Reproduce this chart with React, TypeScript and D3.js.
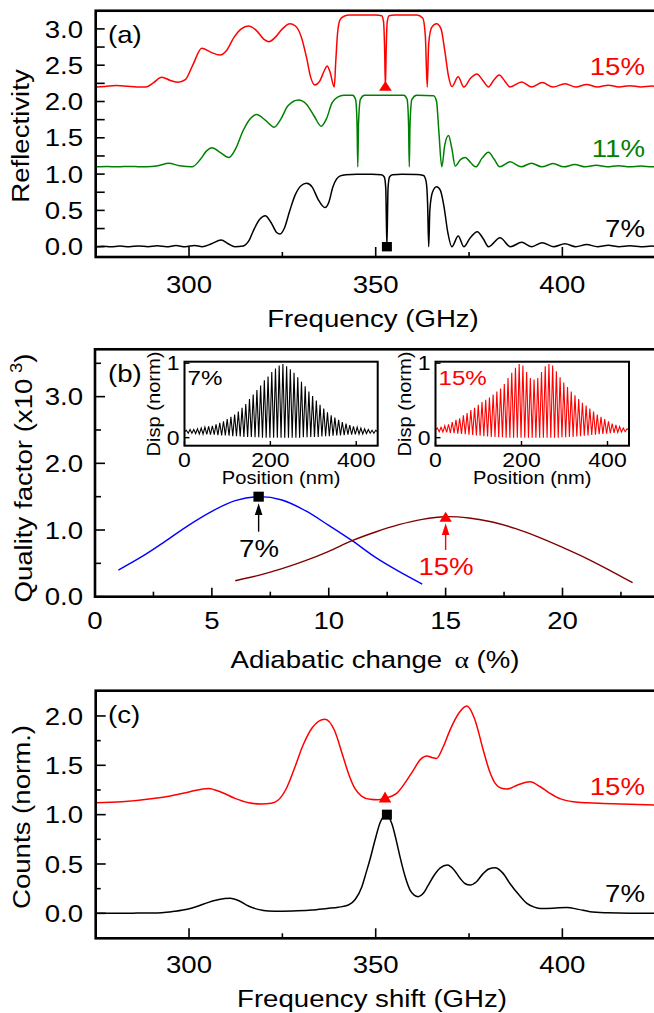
import React from 'react';
import * as d3 from 'd3';

// ---------- Panel (a): reflectivity (raw, 0..1) ----------
const REFL_OFFSETS = { p7: 0, p11: 1.1, p15: 2.2 };
const REFL_7: [number, number][] = [
  [275,0.0],[277,0.006],[279,0.0],[281.5,0.008],[284,0.0],[286.5,0.01],[289,0.0],[291.5,0.012],[294,0.0],[296.5,0.015],[299,0.0],[301.5,0.018],[303.5,0.0],
  [306,0.04],[308.6,0.092],[310.5,0.04],[312.3,0.0],[314.5,0.01],[316,0.08],[317.5,0.25],[319,0.38],[320.4,0.427],[322,0.33],[323.4,0.2],[324.4,0.175],
  [325.5,0.25],[327,0.5],[328.5,0.72],[330,0.84],[331.5,0.873],[333,0.82],[334.5,0.66],[336.4,0.54],[337.5,0.62],[338.5,0.82],[339.5,0.93],[340.5,0.975],
  [342,0.992],[345,0.998],[349,0.998],[351.5,0.99],[352.3,0.96],[352.7,0.8],[353,0.0],[353.3,0.8],[353.7,0.96],[354.5,0.99],[357,0.998],[361,0.995],
  [362.8,0.98],[363.5,0.9],[363.9,0.6],[364.2,0.0],[364.5,0.5],[365.2,0.75],[366.3,0.826],[367.3,0.78],[368.3,0.55],[369.3,0.2],[370.4,0.0],
  [372.1,0.147],[373.6,0.0],[375.3,0.12],[377.2,0.207],[378.8,0.11],[380.2,0.0],[383.3,0.124],[386.1,0.0],[389.1,0.06],[391.8,0.0],[394.6,0.055],
  [397.6,0.0],[400.7,0.04],[403.6,0.0],[406.5,0.03],[409.4,0.0],[412.3,0.02],[415.2,0.0],[418.1,0.012],[421,0.0],[424,0.008],[425,0.005],
];
const REFL_11: [number, number][] = [
  [275,0.0],[278,0.005],[281,0.0],[284,0.006],[287,0.0],[290,0.004],[292,0.02],[294.5,0.049],[297.5,0.015],[300.8,0.0],[303,0.1],[304.7,0.22],
  [306.2,0.264],[308.3,0.2],[310.7,0.13],[312.5,0.25],[314.5,0.5],[316.5,0.67],[318.1,0.72],[320.5,0.64],[322.8,0.545],[324.5,0.65],[326.5,0.84],
  [329.3,0.92],[331.5,0.86],[333.5,0.7],[335.4,0.56],[336.8,0.66],[338.3,0.88],[339.8,0.96],[341.5,0.985],[343.8,0.985],[344.6,0.93],[345,0.6],
  [345.2,0.0],[345.4,0.6],[345.9,0.93],[347,0.985],[357.5,0.985],[358.4,0.93],[358.8,0.6],[359.0,0.0],[359.2,0.6],[359.7,0.93],[361,0.985],
  [365.5,0.98],[366.3,0.9],[366.9,0.5],[367.7,0.0],[368.5,0.3],[369.5,0.43],[370.4,0.25],[371.3,0.01],[372.7,0.1],[374,0.13],[375.4,0.06],
  [376.8,0.0],[378.5,0.12],[380.2,0.2],[381.8,0.1],[383.2,0.0],[386,0.07],[389,0.0],[391.7,0.05],[394.5,0.0],[397.5,0.045],[400.4,0.0],
  [403.3,0.032],[406.2,0.0],[409.1,0.022],[412,0.0],[415,0.015],[418,0.0],[421,0.01],[424,0.0],[425,0.002],
];
const REFL_15: [number, number][] = [
  [275,0.0],[277.5,0.008],[280.5,0.02],[283.5,0.01],[286,0.0],[288.5,0.0],[290.5,0.06],[292.7,0.133],[295,0.09],[297.1,0.064],[299,0.1],[301,0.3],
  [303.4,0.533],[305.8,0.48],[308.3,0.44],[310,0.5],[312,0.68],[314,0.8],[315.9,0.84],[318,0.78],[320,0.66],[321.4,0.624],[323,0.68],[325,0.8],
  [327,0.87],[328.5,0.84],[330,0.7],[331.5,0.4],[332.5,0.15],[333.7,0.027],[335,0.08],[336.2,0.22],[337,0.29],[337.8,0.2],[338.9,0.0],[339.3,0.35],
  [339.8,0.75],[340.5,0.93],[341.5,0.975],[343,0.99],[350,0.99],[351.6,0.98],[352.1,0.9],[352.4,0.5],[352.6,0.0],[352.8,0.5],[353.1,0.9],[353.6,0.98],
  [355,0.99],[361,0.99],[362.6,0.95],[363.3,0.7],[363.8,0.0],[364.2,0.6],[365,0.82],[366.3,0.87],[367.5,0.8],[368.5,0.5],[369.5,0.15],[370.4,0.005],
  [372.1,0.14],[373.6,0.0],[375.4,0.12],[377.1,0.18],[378.7,0.09],[380.2,0.0],[381.7,0.1],[383.1,0.165],[384.6,0.08],[386,0.0],[389.1,0.07],
  [391.7,0.0],[394.6,0.06],[397.5,0.0],[400.7,0.045],[403.6,0.0],[406.5,0.035],[409.4,0.0],[412.3,0.025],[415.2,0.0],[418.1,0.018],[421,0.0],
  [424,0.012],[425,0.008],
];
const FREQ_TICKS = [300, 350, 400];
const FREQ_TICK_LABELS = ['300', '350', '400'];
const FREQ_MINOR = [325, 375];
const REFL_TICKS = [0, 0.5, 1, 1.5, 2, 2.5, 3];
const REFL_TICK_LABELS = ['0.0', '0.5', '1.0', '1.5', '2.0', '2.5', '3.0'];
const REFL_MINOR = [0.25, 0.75, 1.25, 1.75, 2.25, 2.75];
const MODE_FREQ_7 = 353;
const MODE_FREQ_15 = 352.6;

// ---------- Panel (b): quality factor ----------
const ALPHA_BLUE = [1, 2, 3, 4, 5, 6, 7, 8, 9, 10, 11, 12, 13, 14];
const Q_BLUE = [0.40, 0.60, 0.83, 1.07, 1.28, 1.44, 1.50, 1.45, 1.29, 1.07, 0.84, 0.59, 0.38, 0.19];
const ALPHA_BROWN = [6, 7, 8, 9, 10, 11, 12, 13, 14, 15, 16, 17, 18, 19, 20, 21, 22, 23];
const Q_BROWN = [0.24, 0.32, 0.42, 0.54, 0.68, 0.84, 0.97, 1.08, 1.16, 1.20, 1.18, 1.12, 1.02, 0.89, 0.74, 0.58, 0.40, 0.21];
const ALPHA_TICKS = [0, 5, 10, 15, 20];
const ALPHA_MINOR = [2.5, 7.5, 12.5, 17.5, 22.5];
const Q_TICKS = [0, 1, 2, 3];
const Q_TICK_LABELS = ['0.0', '1.0', '2.0', '3.0'];
const Q_MINOR = [0.5, 1.5, 2.5, 3.5];
const MARK_7 = { alpha: 7, q: 1.5 };
const MARK_15 = { alpha: 15, q: 1.2 };

// insets: displacement profiles (peak and trough of each oscillation)
const OSC_START = 4.3;
const OSC_PERIOD = 8.65;
const PEAKS_7 = [
  0.10,0.11,0.11,0.12,0.13,0.14,0.15,0.16,0.18,0.20,
  0.22,0.25,0.28,0.31,0.35,0.40,0.45,0.52,0.58,0.64,
  0.70,0.77,0.82,0.88,0.93,0.97,0.99,0.96,0.92,0.87,
  0.81,0.75,0.69,0.62,0.56,0.50,0.44,0.39,0.34,0.30,
  0.27,0.24,0.21,0.19,0.17,0.15,0.14,0.13,0.12,0.11,
  0.10,0.10,
];
const TROUGHS_7 = [
  0.06,0.06,0.055,0.05,0.05,0.045,0.04,0.04,0.035,0.03,
  0.03,0.025,0.02,0.02,0.015,0.01,0.01,0.01,0.005,0.005,
  0.0,0.0,0.0,0.0,0.0,0.0,0.0,0.0,0.0,0.0,
  0.0,0.005,0.005,0.01,0.01,0.01,0.015,0.02,0.02,0.025,
  0.03,0.03,0.035,0.04,0.04,0.045,0.05,0.05,0.055,0.06,
  0.06,
];
const EDGE_7 = 0.08;
const PEAKS_15 = [
  0.13,0.14,0.16,0.18,0.21,0.24,0.26,0.30,0.33,0.37,
  0.40,0.44,0.48,0.51,0.54,0.58,0.62,0.66,0.72,0.80,
  0.87,0.94,0.99,0.97,0.88,0.80,0.78,0.80,0.88,0.96,
  0.99,0.97,0.89,0.81,0.74,0.68,0.62,0.57,0.52,0.47,
  0.43,0.39,0.35,0.31,0.28,0.25,0.22,0.19,0.17,0.15,
  0.13,0.12,
];
const TROUGHS_15 = [
  0.08,0.075,0.07,0.065,0.06,0.055,0.05,0.045,0.04,0.035,
  0.03,0.025,0.02,0.015,0.01,0.01,0.005,0.005,0.0,0.0,
  0.0,0.0,0.0,0.0,0.0,0.0,0.0,0.0,0.0,0.0,
  0.0,0.0,0.0,0.005,0.005,0.01,0.01,0.015,0.02,0.025,
  0.03,0.035,0.04,0.045,0.05,0.055,0.06,0.065,0.07,0.075,
  0.08,
];
const EDGE_15 = 0.1;
const POS_TICKS = [0, 200, 400];
const DISP_TICKS = [0, 1];

// ---------- Panel (c): Raman counts ----------
const COUNTS_7: [number, number][] = [
  [275,0.0],[285,0.002],[292.7,0.007],[296,0.02],[299.8,0.044],[302.5,0.075],[305.2,0.111],[308,0.14],[311,0.152],[313.5,0.125],
  [315.9,0.074],[318.5,0.04],[321.2,0.024],[325,0.022],[329,0.026],[332.9,0.034],[337,0.05],[340,0.062],[342.7,0.084],[344.5,0.14],
  [346.3,0.27],[347.5,0.42],[348.5,0.55],[349.8,0.74],[351.2,0.92],[352.8,1.0],[354.4,0.9],[355.5,0.74],[356.5,0.574],[357.9,0.37],
  [359.2,0.236],[360.3,0.185],[361.4,0.169],[362.7,0.2],[364,0.28],[365.4,0.371],[367.3,0.46],[369.2,0.489],[371,0.44],[372.6,0.355],
  [374,0.3],[375.3,0.287],[377,0.32],[378.7,0.4],[380.3,0.45],[382,0.462],[384,0.41],[386,0.3],[388.3,0.19],[390.5,0.101],
  [392.3,0.065],[394,0.05],[397.5,0.052],[401.2,0.06],[404.3,0.04],[407.4,0.017],[412,0.005],[418,0.0],[425,0.0],
];
const COUNTS_15_SHIFTED: [number, number][] = [
  [275,1.121],[282,1.13],[290.9,1.165],[295,1.19],[300,1.23],[305.2,1.266],[308.5,1.23],[312.3,1.165],[316,1.12],[319.5,1.107],
  [322,1.115],[323.9,1.148],[326,1.26],[328.4,1.486],[330.5,1.7],[333,1.88],[336.4,1.966],[339,1.85],[341,1.62],[342.7,1.418],
  [344.5,1.26],[346.2,1.188],[348.5,1.155],[350.5,1.15],[352.5,1.165],[355.6,1.215],[358,1.33],[360.1,1.452],[362,1.56],[363.7,1.594],
  [365,1.58],[366.3,1.57],[368,1.68],[369.9,1.857],[372.3,2.03],[374.4,2.10],[376.5,1.97],[378.8,1.655],[380.5,1.44],[382,1.317],
  [383.5,1.27],[385.1,1.259],[388,1.3],[391.3,1.333],[394,1.285],[396.7,1.216],[399.5,1.16],[402.9,1.131],[407,1.12],[411,1.114],
  [418,1.105],[425,1.097],
];
const COUNT_TICKS = [0, 0.5, 1, 1.5, 2];
const COUNT_TICK_LABELS = ['0.0', '0.5', '1.0', '1.5', '2.0'];
const COUNT_MINOR = [0.25, 0.75, 1.25, 1.75];
const C_MARK_15 = { f: 352.5, v: 1.18 };
const C_MARK_7 = { f: 353, v: 1.0 };

const FONT = "'Liberation Sans', Arial, Helvetica, sans-serif";
const SX = 1.15;
const RED = '#ff0000';
const GREEN = '#008000';
const BLUE = '#0000ff';
const BROWN = '#800000';

function T({ x, y, size = 24, anchor = 'start', fill = '#000', rot = 0, children }: any) {
  return (
    <text transform={`translate(${x},${y}) rotate(${rot}) scale(${SX},1)`} fontSize={size}
      textAnchor={anchor} fill={fill} fontFamily={FONT}>{children}</text>
  );
}

function Frame({ x0, x1, y0, y1, w = 2.6 }: any) {
  return <rect x={x0} y={y0} width={x1 - x0} height={y1 - y0} fill="none" stroke="#000" strokeWidth={w} />;
}

function oscPoints(peaks: number[], troughs: number[], edge: number): [number, number][] {
  const pts: [number, number][] = [[0, edge]];
  peaks.forEach((p, i) => {
    const xp = OSC_START + i * OSC_PERIOD;
    pts.push([xp, p]);
    if (i < troughs.length) pts.push([xp + OSC_PERIOD / 2, troughs[i]]);
  });
  pts.push([450, edge]);
  return pts;
}

function Triangle({ cx, cy, w, h, fill }: any) {
  return <polygon points={`${cx - w / 2},${cy + h / 2} ${cx + w / 2},${cy + h / 2} ${cx},${cy - h / 2}`} fill={fill} />;
}

export default function App() {
  // panel a
  const xA = d3.scaleLinear().domain([275, 425]).range([95.7, 655.7]);
  const yA = d3.scaleLinear().domain([0, 3]).range([246.7, 28.9]);
  const aTop = yA(3.25), aBot = yA(-0.142);
  const lineA = (off: number) => d3.line<[number, number]>().x(d => xA(d[0])).y(d => yA(d[1] + off)).curve(d3.curveMonotoneX);

  // panel b
  const xB = d3.scaleLinear().domain([0, 24]).range([95, 656]);
  const yB = d3.scaleLinear().domain([0, 3.71]).range([596.7, 349.3]);
  const bluePts = ALPHA_BLUE.map((a, i) => [xB(a), yB(Q_BLUE[i])] as [number, number]);
  const brownPts = ALPHA_BROWN.map((a, i) => [xB(a), yB(Q_BROWN[i])] as [number, number]);
  const lineXY = d3.line<[number, number]>().curve(d3.curveCatmullRom);

  // insets
  const iy = d3.scaleLinear().domain([-0.108, 1.02]).range([445.7, 361.7]);
  const ix7 = d3.scaleLinear().domain([0, 450]).range([184.5, 377.7]);
  const ix15 = d3.scaleLinear().domain([0, 450]).range([435.5, 629]);
  const osc7 = oscPoints(PEAKS_7, TROUGHS_7, EDGE_7);
  const osc15 = oscPoints(PEAKS_15, TROUGHS_15, EDGE_15);

  // panel c
  const xC = d3.scaleLinear().domain([275, 425]).range([95.7, 655.7]);
  const yC = d3.scaleLinear().domain([-0.253, 2.256]).range([938.3, 690.7]);
  const lineC = d3.line<[number, number]>().x(d => xC(d[0])).y(d => yC(d[1])).curve(d3.curveMonotoneX);

  const xTicks = (xs: any, yb: number, maj: number[], min: number[], lm: number, ln: number) => (
    <g stroke="#000" strokeWidth={1.6}>
      {maj.map(v => <line key={'M' + v} x1={xs(v)} x2={xs(v)} y1={yb} y2={yb - lm} />)}
      {min.map(v => <line key={'m' + v} x1={xs(v)} x2={xs(v)} y1={yb} y2={yb - ln} />)}
    </g>
  );
  const yTicks = (ys: any, xl: number, maj: number[], min: number[], lm: number, ln: number) => (
    <g stroke="#000" strokeWidth={1.6}>
      {maj.map(v => <line key={'M' + v} x1={xl} x2={xl + lm} y1={ys(v)} y2={ys(v)} />)}
      {min.map(v => <line key={'m' + v} x1={xl} x2={xl + ln} y1={ys(v)} y2={ys(v)} />)}
    </g>
  );

  const inset = (ix: any, osc: [number, number][], color: string, label: string, dispX: number) => {
    const l = d3.line<[number, number]>().x(d => ix(d[0])).y(d => iy(d[1]));
    const x0 = ix(0), x1 = ix(450);
    return (
      <g>
        <rect x={x0} y={361.7} width={x1 - x0} height={84} fill="#fff" />
        <path d={l(osc) || ''} fill="none" stroke={color} strokeWidth={1.1} />
        <g stroke="#000" strokeWidth={1.4}>
          {POS_TICKS.map(v => <line key={v} x1={ix(v)} x2={ix(v)} y1={445.7} y2={441} />)}
          {DISP_TICKS.map(v => <line key={v} x1={x0} x2={x0 + 5} y1={iy(v)} y2={iy(v)} />)}
        </g>
        <Frame x0={x0} x1={x1} y0={361.7} y1={445.7} w={2} />
        {DISP_TICKS.map(v => <T key={v} x={x0 - 5} y={iy(v) + 7} size={20} anchor="end">{String(v)}</T>)}
        {POS_TICKS.map(v => <T key={v} x={ix(v)} y={466.5} size={20} anchor="middle">{String(v)}</T>)}
        <T x={(x0 + x1) / 2} y={483.5} size={17.5} anchor="middle">Position (nm)</T>
        <T x={dispX} y={404} size={17.5} anchor="middle" rot={-90}>Disp (norm)</T>
        <T x={x0 + 3} y={385} size={21} fill={color}>{label}</T>
      </g>
    );
  };

  return (
    <svg width={654} height={1013} style={{ position: 'absolute', left: 0, top: 0, background: '#fff' }}>
      <rect x={0} y={0} width={654} height={1013} fill="#fff" />
      {/* ---------------- Panel (a) ---------------- */}
      <path d={lineA(REFL_OFFSETS.p7)(REFL_7) || ''} fill="none" stroke="#000" strokeWidth={1.5} />
      <path d={lineA(REFL_OFFSETS.p11)(REFL_11) || ''} fill="none" stroke={GREEN} strokeWidth={1.5} />
      <path d={lineA(REFL_OFFSETS.p15)(REFL_15) || ''} fill="none" stroke={RED} strokeWidth={1.5} />
      <rect x={xA(MODE_FREQ_7) - 5} y={yA(0) - 4.7} width={10} height={9.4} fill="#000" />
      <Triangle cx={xA(MODE_FREQ_15)} cy={yA(2.215)} w={12.7} h={9.7} fill={RED} />
      {xTicks(xA, aBot, FREQ_TICKS, FREQ_MINOR, 10, 5)}
      {yTicks(yA, 95.7, REFL_TICKS, REFL_MINOR, 9, 9)}
      <Frame x0={95.7} x1={655.7} y0={aTop} y1={aBot} />
      {REFL_TICKS.map((v, i) => <T key={v} x={83} y={yA(v) + 8.6} anchor="end">{REFL_TICK_LABELS[i]}</T>)}
      {FREQ_TICKS.map((v, i) => <T key={v} x={xA(v)} y={292.7} anchor="middle">{FREQ_TICK_LABELS[i]}</T>)}
      <T x={373} y={326.7} anchor="middle">Frequency (GHz)</T>
      <T x={29} y={136} anchor="middle" rot={-90}>Reflectivity</T>
      <T x={108} y={43.3}>(a)</T>
      <T x={645} y={75} anchor="end" fill={RED}>15%</T>
      <T x={645} y={156.7} anchor="end" fill={GREEN}>11%</T>
      <T x={645} y={236.7} anchor="end">7%</T>

      {/* ---------------- Panel (b) ---------------- */}
      <path d={lineXY(bluePts) || ''} fill="none" stroke={BLUE} strokeWidth={1.4} />
      <path d={lineXY(brownPts) || ''} fill="none" stroke={BROWN} strokeWidth={1.4} />
      <rect x={xB(MARK_7.alpha) - 5.2} y={yB(MARK_7.q) - 5} width={10.4} height={10} fill="#000" />
      <Triangle cx={xB(MARK_15.alpha)} cy={yB(MARK_15.q)} w={12.5} h={10} fill={RED} />
      <line x1={xB(MARK_7.alpha)} x2={xB(MARK_7.alpha)} y1={531.7} y2={510} stroke="#000" strokeWidth={1.4} />
      <polygon points={`${xB(MARK_7.alpha) - 3.8},${515} ${xB(MARK_7.alpha) + 3.8},${515} ${xB(MARK_7.alpha)},${503.3}`} fill="#000" />
      <line x1={xB(MARK_15.alpha)} x2={xB(MARK_15.alpha)} y1={550} y2={530} stroke={RED} strokeWidth={1.4} />
      <polygon points={`${xB(MARK_15.alpha) - 3.8},${535} ${xB(MARK_15.alpha) + 3.8},${535} ${xB(MARK_15.alpha)},${523.3}`} fill={RED} />
      <T x={259} y={556.6} anchor="middle">7%</T>
      <T x={446} y={574.6} anchor="middle" fill={RED}>15%</T>
      {xTicks(xB, 596.7, ALPHA_TICKS, ALPHA_MINOR, 9, 5)}
      {yTicks(yB, 95, Q_TICKS, Q_MINOR, 10, 6)}
      <Frame x0={95} x1={656} y0={349.3} y1={596.7} />
      {Q_TICKS.map((v, i) => <T key={v} x={83} y={yB(v) + 8.6} anchor="end">{Q_TICK_LABELS[i]}</T>)}
      {ALPHA_TICKS.map(v => <T key={v} x={xB(v)} y={629} anchor="middle">{String(v)}</T>)}
      <T x={375} y={668} anchor="middle">Adiabatic change <tspan fontFamily="'Liberation Serif', serif" dx={4}>α</tspan> (%)</T>
      <text transform={`translate(31.8,478) rotate(-90) scale(${SX},1)`} fontSize={24} textAnchor="middle" fontFamily={FONT}>
        Quality factor (x10<tspan fontSize={16} dy={-10} dx={5}>3</tspan><tspan dy={10}>)</tspan>
      </text>
      <T x={108} y={381.7}>(b)</T>
      {inset(ix7, osc7, '#000', '7%', 160)}
      {inset(ix15, osc15, RED, '15%', 411)}

      {/* ---------------- Panel (c) ---------------- */}
      <path d={lineC(COUNTS_7) || ''} fill="none" stroke="#000" strokeWidth={1.5} />
      <path d={lineC(COUNTS_15_SHIFTED) || ''} fill="none" stroke={RED} strokeWidth={1.5} />
      <Triangle cx={xC(C_MARK_15.f)} cy={yC(C_MARK_15.v)} w={12.5} h={11} fill={RED} />
      <rect x={xC(C_MARK_7.f) - 5} y={yC(C_MARK_7.v) - 5} width={10} height={10} fill="#000" />
      {xTicks(xC, 938.3, FREQ_TICKS, FREQ_MINOR, 10, 5)}
      {yTicks(yC, 95.7, COUNT_TICKS, COUNT_MINOR, 10, 5)}
      <Frame x0={95.7} x1={655.7} y0={690.7} y1={938.3} />
      {COUNT_TICKS.map((v, i) => <T key={v} x={83} y={yC(v) + 8.6} anchor="end">{COUNT_TICK_LABELS[i]}</T>)}
      {FREQ_TICKS.map((v, i) => <T key={v} x={xC(v)} y={972.5} anchor="middle">{FREQ_TICK_LABELS[i]}</T>)}
      <T x={372} y={1006.5} anchor="middle">Frequency shift (GHz)</T>
      <T x={29.7} y={817} anchor="middle" rot={-90}>Counts (norm.)</T>
      <T x={108} y={723.3}>(c)</T>
      <T x={645} y={795} anchor="end" fill={RED}>15%</T>
      <T x={645} y={901.7} anchor="end">7%</T>
    </svg>
  );
}
